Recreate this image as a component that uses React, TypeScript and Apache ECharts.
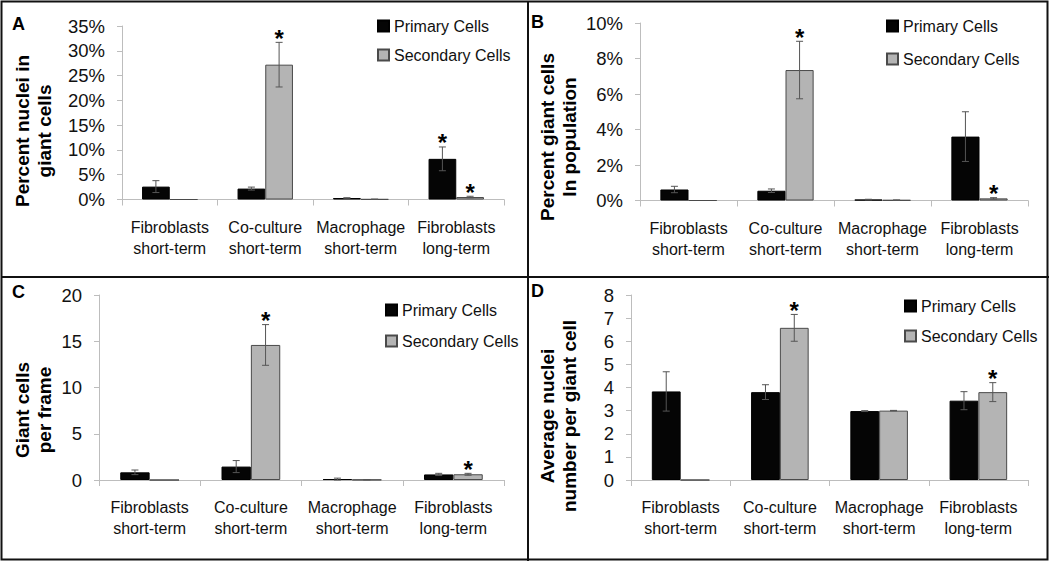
import React, { useEffect, useRef } from "react";
import * as echarts from "echarts";

const categories = ["Fibroblasts\nshort-term", "Co-culture\nshort-term", "Macrophage\nshort-term", "Fibroblasts\nlong-term"];
const seriesNames = ["Primary Cells", "Secondary Cells"];

// Panel A: percent nuclei in giant cells (%)
const primaryA = [2.6, 2.2, 0.3, 8.2];
const primaryErrA = [1.2, 0.3, 0.05, 2.4];
const secondaryA = [0, 27.2, 0.05, 0.5];
const secondaryErrA = [0, 4.5, 0.02, 0.15];
const sigPrimaryA = [0, 0, 0, 1];
const sigSecondaryA = [0, 1, 0, 1];

// Panel B: percent giant cells in population (%)
const primaryB = [0.62, 0.55, 0.05, 3.6];
const primaryErrB = [0.18, 0.1, 0.02, 1.4];
const secondaryB = [0, 7.35, 0.02, 0.12];
const secondaryErrB = [0, 1.62, 0.01, 0.04];
const sigPrimaryB = [0, 0, 0, 0];
const sigSecondaryB = [0, 1, 0, 1];

// Panel C: giant cells per frame
const primaryC = [0.83, 1.45, 0.1, 0.6];
const primaryErrC = [0.25, 0.65, 0.1, 0.12];
const secondaryC = [0, 14.6, 0.03, 0.62];
const secondaryErrC = [0, 2.2, 0.01, 0.1];
const sigPrimaryC = [0, 0, 0, 0];
const sigSecondaryC = [0, 1, 0, 1];

// Panel D: average nuclei number per giant cell
const primaryD = [3.83, 3.8, 2.98, 3.43];
const primaryErrD = [0.85, 0.32, 0.02, 0.39];
const secondaryD = [0, 6.58, 3.0, 3.8];
const secondaryErrD = [0, 0.58, 0.01, 0.41];
const sigPrimaryD = [0, 0, 0, 0];
const sigSecondaryD = [0, 1, 0, 1];

const yMaxes = [35, 10, 20, 8];
const yIntervals = [5, 2, 5, 1];
const yFormats = ["{value}%", "{value}%", "{value}", "{value}"];
const yTitles = ["Percent nuclei in\ngiant cells", "Percent giant cells\nIn population", "Giant cells\nper frame", "Average nuclei\nnumber per giant cell"];
const panelLetters = ["A", "B", "C", "D"];

const FONT = "Liberation Sans, Arial, Helvetica, sans-serif";
const BAR_FRAC = 0.29;
const PRIMARY_COLOR = "#050505";
const SECONDARY_COLOR = "#b4b4b4";
const AXIS_COLOR = "#bdbdbd";

const grids = [
  { left: 122, top: 26, width: 382, height: 173.5 },
  { left: 640, top: 23, width: 388, height: 177.5 },
  { left: 99, top: 295, width: 405, height: 185 },
  { left: 631, top: 295, width: 397, height: 185 },
];
const legendPos = [
  { left: 377, top: 18, itemGap: 13 },
  { left: 886, top: 18, itemGap: 17 },
  { left: 385, top: 302, itemGap: 15 },
  { left: 904, top: 298, itemGap: 14 },
];
const titlePos = [
  { x: 33, y: 131 },
  { x: 558, y: 137 },
  { x: 33, y: 410 },
  { x: 558, y: 416 },
];
const letterPos = [
  { x: 12, y: 24 },
  { x: 531, y: 22 },
  { x: 12, y: 292 },
  { x: 531, y: 291 },
];

const panels = [
  { p: primaryA, pe: primaryErrA, ps: sigPrimaryA, s: secondaryA, se: secondaryErrA, ss: sigSecondaryA },
  { p: primaryB, pe: primaryErrB, ps: sigPrimaryB, s: secondaryB, se: secondaryErrB, ss: sigSecondaryB },
  { p: primaryC, pe: primaryErrC, ps: sigPrimaryC, s: secondaryC, se: secondaryErrC, ss: sigSecondaryC },
  { p: primaryD, pe: primaryErrD, ps: sigPrimaryD, s: secondaryD, se: secondaryErrD, ss: sigSecondaryD },
];

function errSeries(idx: number, values: number[], errs: number[], sigs: number[], side: number) {
  return {
    type: "custom",
    name: "err" + idx + "_" + side,
    xAxisIndex: idx,
    yAxisIndex: idx,
    z: 5,
    silent: true,
    encode: { x: 0, y: 1 },
    data: values.map((v, i) => [i, v, errs[i], sigs[i]]),
    renderItem: (params: any, api: any) => {
      const i = api.value(0);
      const v = api.value(1);
      const e = api.value(2);
      const s = api.value(3);
      const band = api.size([1, 0])[0];
      const bw = band * BAR_FRAC;
      const cx = api.coord([i, 0])[0] + (side * bw) / 2;
      const children: any[] = [];
      const yTop = api.coord([i, v + e])[1];
      if (e > 0) {
        const yBot = api.coord([i, Math.max(v - e, 0)])[1];
        const ls = { stroke: "#555", lineWidth: 1 };
        children.push({ type: "line", shape: { x1: cx, y1: yTop, x2: cx, y2: yBot }, style: ls });
        children.push({ type: "line", shape: { x1: cx - 3.5, y1: yTop, x2: cx + 3.5, y2: yTop }, style: ls });
        children.push({ type: "line", shape: { x1: cx - 3.5, y1: yBot, x2: cx + 3.5, y2: yBot }, style: ls });
      }
      if (s) {
        children.push({
          type: "text",
          x: cx,
          y: yTop - 4,
          style: { text: "*", fill: "#000", fontSize: 24, fontWeight: "bold", fontFamily: FONT, align: "center", verticalAlign: "middle" },
        });
      }
      return { type: "group", children };
    },
  };
}

export default function App() {
  const ref = useRef<HTMLDivElement>(null);
  useEffect(() => {
    document.body.style.margin = "0";
    if (!ref.current) return;
    const chart = echarts.init(ref.current, null, { renderer: "svg" });

    const series: any[] = [];
    panels.forEach((pn, idx) => {
      series.push({
        type: "bar",
        name: seriesNames[0],
        xAxisIndex: idx,
        yAxisIndex: idx,
        data: pn.p,
        barWidth: "29%",
        barGap: "0%",
        itemStyle: { color: PRIMARY_COLOR, borderColor: "#000", borderWidth: 1 },
      });
      series.push({
        type: "bar",
        name: seriesNames[1],
        xAxisIndex: idx,
        yAxisIndex: idx,
        data: pn.s,
        barWidth: "29%",
        barGap: "0%",
        itemStyle: { color: SECONDARY_COLOR, borderColor: "#4a4a4a", borderWidth: 1 },
      });
      series.push(errSeries(idx, pn.p, pn.pe, pn.ps, -1));
      series.push(errSeries(idx, pn.s, pn.se, pn.ss, 1));
    });

    const graphic: any[] = [
      { type: "rect", shape: { x: 1.5, y: 1.5, width: 1046, height: 558 }, style: { fill: "none", stroke: "#111", lineWidth: 2 } },
      { type: "line", shape: { x1: 528, y1: 1, x2: 528, y2: 561 }, style: { stroke: "#111", lineWidth: 2 } },
      { type: "line", shape: { x1: 1, y1: 277, x2: 1049, y2: 277 }, style: { stroke: "#111", lineWidth: 2 } },
    ];
    panelLetters.forEach((l, i) => {
      graphic.push({
        type: "text",
        x: letterPos[i].x,
        y: letterPos[i].y,
        style: { text: l, fill: "#000", fontSize: 18, fontWeight: "bold", fontFamily: FONT, align: "left", verticalAlign: "middle" },
      });
    });
    yTitles.forEach((t, i) => {
      graphic.push({
        type: "text",
        x: titlePos[i].x,
        y: titlePos[i].y,
        rotation: Math.PI / 2,
        style: { text: t, fill: "#000", fontSize: 19, fontWeight: "bold", fontFamily: FONT, align: "center", verticalAlign: "middle", lineHeight: 22 },
      });
    });

    const option: any = {
      animation: false,
      backgroundColor: "#fff",
      textStyle: { fontFamily: FONT },
      grid: grids.map((g) => ({ ...g, containLabel: false })),
      legend: legendPos.map((lp) => ({
        data: seriesNames,
        orient: "vertical",
        left: lp.left,
        top: lp.top,
        itemGap: lp.itemGap,
        itemWidth: 11,
        itemHeight: 11,
        icon: "rect",
        padding: 0,
        selectedMode: false,
        textStyle: { fontSize: 16, color: "#111", fontFamily: FONT, lineHeight: 16 },
      })),
      xAxis: grids.map((g, i) => ({
        type: "category",
        gridIndex: i,
        data: categories,
        axisLine: { lineStyle: { color: AXIS_COLOR, width: 1 } },
        axisTick: { show: true, length: 6, lineStyle: { color: AXIS_COLOR } },
        axisLabel: { fontSize: 16, color: "#111", fontFamily: FONT, lineHeight: 21, margin: 17, interval: 0 },
        splitLine: { show: false },
      })),
      yAxis: grids.map((g, i) => ({
        type: "value",
        gridIndex: i,
        min: 0,
        max: yMaxes[i],
        interval: yIntervals[i],
        axisLine: { show: true, lineStyle: { color: AXIS_COLOR, width: 1 } },
        axisTick: { show: true, length: 5, lineStyle: { color: AXIS_COLOR } },
        axisLabel: { fontSize: 18.5, color: "#111", fontFamily: FONT, margin: 17, formatter: yFormats[i] },
        splitLine: { show: false },
      })),
      series,
      graphic,
    };
    chart.setOption(option);
    return () => chart.dispose();
  }, []);
  return <div ref={ref} style={{ width: 1050, height: 562 }} />;
}
